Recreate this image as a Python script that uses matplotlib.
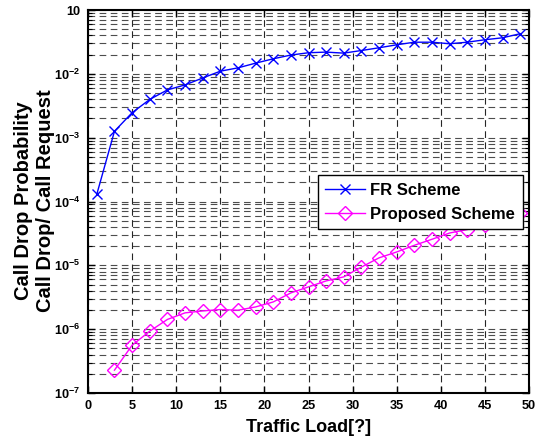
import numpy as np
import matplotlib
matplotlib.use("Agg")
import matplotlib.pyplot as plt
from matplotlib.ticker import LogLocator, FixedLocator, NullFormatter

# Traffic load (x) and drop probability for both schemes
load_fr = [1, 3, 5, 7, 9, 11, 13, 15, 17, 19, 21, 23, 25,
           27, 29, 31, 33, 35, 37, 39, 41, 43, 45, 47, 49]
drop_fr = [1.3e-4, 1.26e-3, 2.46e-3, 3.97e-3, 5.6e-3, 6.7e-3, 8.6e-3,
           1.10e-2, 1.24e-2, 1.47e-2, 1.72e-2, 1.97e-2, 2.14e-2,
           2.19e-2, 2.11e-2, 2.32e-2, 2.56e-2, 2.85e-2, 3.13e-2, 3.13e-2,
           2.96e-2, 3.13e-2, 3.42e-2, 3.67e-2, 4.25e-2]

load_prop = [3, 5, 7, 9, 11, 13, 15, 17, 19, 21, 23, 25,
             27, 29, 31, 33, 35, 37, 39, 41, 43, 45, 47, 49]
drop_prop = [2.28e-7, 5.6e-7, 9.3e-7, 1.42e-6, 1.80e-6, 1.93e-6, 2.03e-6,
             1.98e-6, 2.23e-6, 2.67e-6, 3.70e-6, 4.6e-6, 5.7e-6, 6.6e-6,
             9.4e-6, 1.31e-5, 1.62e-5, 2.06e-5, 2.56e-5, 3.21e-5, 3.63e-5,
             4.3e-5, 5.3e-5, 6.6e-5]

xticks = [0, 5, 10, 15, 20, 25, 30, 35, 40, 45, 50]
yticks = [1e-7, 1e-6, 1e-5, 1e-4, 1e-3, 1e-2, 1e-1]
ytick_labels = [r'$10^{-7}$', r'$10^{-6}$', r'$10^{-5}$', r'$10^{-4}$',
                r'$10^{-3}$', r'$10^{-2}$', '10']

plt.rcParams['font.family'] = ['Liberation Sans', 'DejaVu Sans']
plt.rcParams['font.weight'] = 'bold'
plt.rcParams['mathtext.fontset'] = 'custom'
plt.rcParams['mathtext.rm'] = 'Liberation Sans:bold'
plt.rcParams['mathtext.it'] = 'Liberation Sans:bold'
plt.rcParams['mathtext.bf'] = 'Liberation Sans:bold'

fig = plt.figure(figsize=(5.37, 4.41), dpi=100)
ax = fig.add_axes([88/537, 1 - 393/441, 441/537, 383/441])

ax.plot(load_fr, drop_fr, color='#0000ff', marker='x', ms=7, mew=1,
        lw=1, label='FR Scheme')
ax.plot(load_prop, drop_prop, color='#ff00ff', marker='D', ms=7, mew=1,
        mfc='none', lw=1, label='Proposed Scheme')

ax.set_yscale('log')
ax.set_xlim(0, 50)
ax.set_ylim(1e-7, 1e-1)

ax.xaxis.set_major_locator(FixedLocator(xticks))
ax.yaxis.set_major_locator(FixedLocator(yticks))
ax.set_yticklabels(ytick_labels)
ax.yaxis.set_minor_locator(LogLocator(base=10, subs=np.arange(2, 10), numticks=20))
ax.yaxis.set_minor_formatter(NullFormatter())

ax.tick_params(which='both', direction='in', top=True, right=True)
ax.tick_params(which='major', length=5, width=1, labelsize=9.2)
ax.tick_params(which='minor', length=3, width=0.8)
ax.tick_params(axis='x', pad=5)
ax.tick_params(axis='y', pad=5.5)

ax.grid(True, axis='x', which='major', color='0.15', lw=0.8, ls=(0, (6, 4)))
ax.grid(True, axis='y', which='both', color='0.3', lw=0.8, ls=(0, (6, 4)))
ax.set_axisbelow(True)

for s in ax.spines.values():
    s.set_linewidth(1.5)

ax.set_xlabel('Traffic Load[?]', fontsize=13, fontweight='bold', labelpad=5)
fig.text(34.5/537, 1 - 201/441, 'Call Drop Probability\nCall Drop/ Call Request',
         rotation=90, ha='center', va='center', fontsize=14.5,
         fontweight='bold', linespacing=1.15, multialignment='center')

leg = ax.legend(loc='upper right', bbox_to_anchor=(0.986, 0.569),
                borderaxespad=0, fancybox=False, framealpha=1,
                edgecolor='black', prop={'size': 12, 'weight': 'bold'},
                handlelength=2.4, handletextpad=0.3, borderpad=0.45,
                labelspacing=0.55)
leg.get_frame().set_linewidth(1.0)

fig.savefig('out.png', dpi=100)
